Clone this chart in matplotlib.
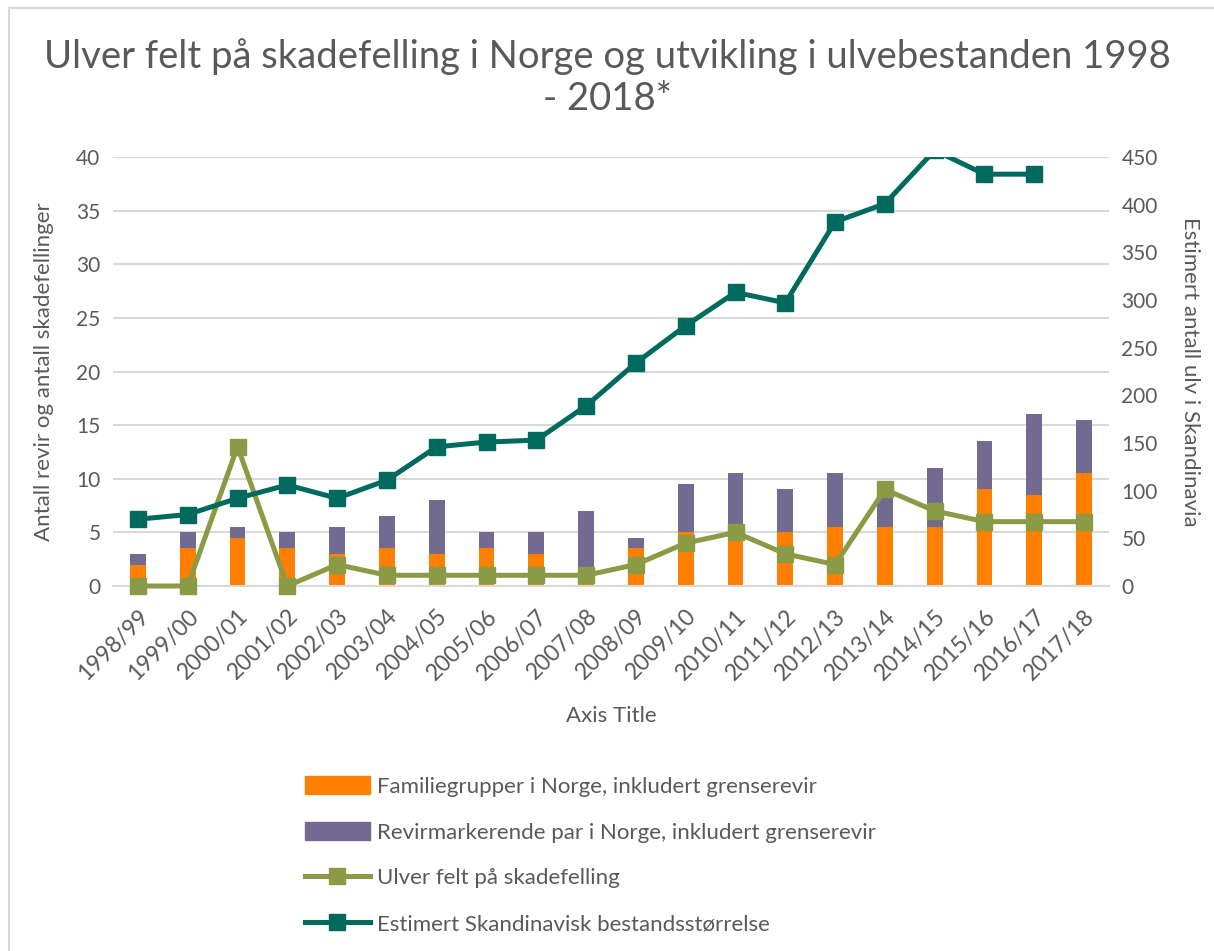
import numpy as np
import matplotlib
matplotlib.use('Agg')
import matplotlib.pyplot as plt
from matplotlib.lines import Line2D

plt.rcParams['font.family'] = ['Lato', 'DejaVu Sans']

seasons = ['1998/99', '1999/00', '2000/01', '2001/02', '2002/03', '2003/04', '2004/05',
           '2005/06', '2006/07', '2007/08', '2008/09', '2009/10', '2010/11', '2011/12',
           '2012/13', '2013/14', '2014/15', '2015/16', '2016/17', '2017/18']
familiegrupper = [2, 3.5, 4.5, 3.5, 3, 3.5, 3, 3.5, 3, 1, 3.5, 5, 4.5, 5, 5.5, 5.5, 5.5, 9, 8.5, 10.5]
revirpar = [1, 1.5, 1, 1.5, 2.5, 3, 5, 1.5, 2, 6, 1, 4.5, 6, 4, 5, 4, 5.5, 4.5, 7.5, 5]
ulver_felt = [0, 0, 13, 0, 2, 1, 1, 1, 1, 1, 2, 4, 5, 3, 2, 9, 7, 6, 6, 6]
bestand = [70, 75, 92, 106, 92, 111, 146, 151, 153, 189, 234, 273, 308, 297, 382, 401, 457, 432, 432, np.nan]

c_orange = '#FF7F00'
c_purple = '#736A92'
c_green = '#8A9A45'
c_teal = '#006A5E'
c_text = '#595959'

fig = plt.figure(figsize=(12.14, 9.51), dpi=100)
ax = fig.add_axes([0.0931, 0.3838, 0.8204, 0.4511])
ax2 = ax.twinx()

x = np.arange(len(seasons))
ax.bar(x, familiegrupper, width=0.32, color=c_orange, zorder=2,
       label='Familiegrupper i Norge, inkludert grenserevir')
ax.bar(x, revirpar, width=0.32, bottom=familiegrupper, color=c_purple, zorder=2,
       label='Revirmarkerende par i Norge, inkludert grenserevir')
ax.plot(x, ulver_felt, color=c_green, lw=3.6, marker='s', ms=11, zorder=4, clip_on=False,
        label='Ulver felt på skadefelling')
ax2.plot(x, bestand, color=c_teal, lw=3.6, marker='s', ms=11, zorder=4,
         label='Estimert Skandinavisk bestandsstørrelse')

ax.set_ylim(0, 40)
ax.set_yticks(range(0, 41, 5))
ax2.set_ylim(0, 450)
ax2.set_yticks(range(0, 451, 50))
ax.set_xlim(-0.5, len(seasons) - 0.5)
ax.set_xticks(x)
ax.set_xticklabels(seasons, rotation=45, ha='right', rotation_mode='anchor')

ax.grid(axis='y', color='#D9D9D9', lw=1.5, zorder=0)
ax.set_axisbelow(True)
ax.set_zorder(ax2.get_zorder() - 1)
ax.patch.set_visible(False)
ax2.set_zorder(1)

for a in (ax, ax2):
    for s in a.spines.values():
        s.set_visible(False)
    a.tick_params(length=0, labelsize=15, colors=c_text, pad=9)
ax.spines['bottom'].set_visible(True)
ax.spines['bottom'].set_color('#D9D9D9')
ax.spines['bottom'].set_linewidth(1.5)
ax.tick_params(axis='x', pad=14, labelsize=16.5)

ax.set_ylabel('Antall revir og antall skadefellinger', fontsize=16, color=c_text, labelpad=16)
ax2.set_ylabel('Estimert antall ulv i Skandinavia', fontsize=16, color=c_text,
               rotation=270, labelpad=30)
ax.set_xlabel('Axis Title', fontsize=16, color=c_text, labelpad=16)

fig.text(0.5, 0.96, 'Ulver felt på skadefelling i Norge og utvikling i ulvebestanden 1998\n- 2018*',
         ha='center', va='top', fontsize=27.5, color=c_text, linespacing=1.2)

handles = [
    plt.Rectangle((0, 0), 1, 1, color=c_orange),
    plt.Rectangle((0, 0), 1, 1, color=c_purple),
    Line2D([], [], color=c_green, lw=3.6, marker='s', ms=11),
    Line2D([], [], color=c_teal, lw=3.6, marker='s', ms=11),
]
labels = ['Familiegrupper i Norge, inkludert grenserevir',
          'Revirmarkerende par i Norge, inkludert grenserevir',
          'Ulver felt på skadefelling',
          'Estimert Skandinavisk bestandsstørrelse']
leg = fig.legend(handles, labels, loc='upper left', bbox_to_anchor=(0.2345, 0.205),
                 frameon=False, fontsize=16, handlelength=2.95, handleheight=0.9,
                 handletextpad=0.3, labelspacing=1.12)
for t in leg.get_texts():
    t.set_color(c_text)

# chart area border (top and left visible in crop)
fig.add_artist(Line2D([0.0074, 1.0], [0.9916, 0.9916], color='#D9D9D9', lw=1.5,
                      transform=fig.transFigure))
fig.add_artist(Line2D([0.0074, 0.0074], [0.0, 0.9916], color='#D9D9D9', lw=1.5,
                      transform=fig.transFigure))

fig.savefig('out.png', dpi=100)
